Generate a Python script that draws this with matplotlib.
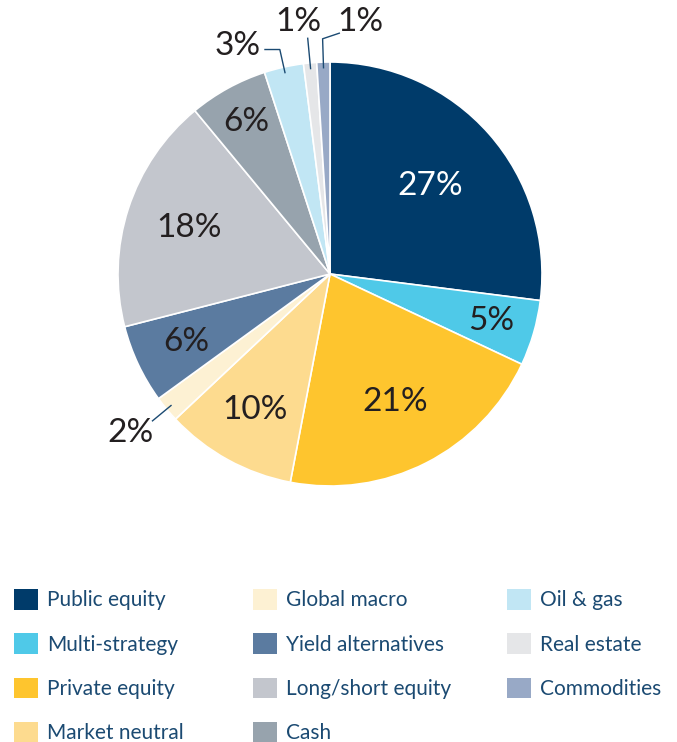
import matplotlib.pyplot as plt
from matplotlib.patches import Patch
import numpy as np

plt.rcParams['font.family'] = ['Lato', 'DejaVu Sans']

categories = ["Public equity", "Multi-strategy", "Private equity", "Market neutral",
              "Global macro", "Yield alternatives", "Long/short equity", "Cash",
              "Oil & gas", "Real estate", "Commodities"]
shares = [27, 5, 21, 10, 2, 6, 18, 6, 3, 1, 1]
colors = ["#003B6A", "#4FC9E8", "#FEC52E", "#FDDB8F", "#FDF1D3", "#5B7BA0",
          "#C3C6CD", "#97A3AD", "#C1E6F4", "#E5E6E8", "#98A9C6"]

text_dark = "#231F20"
navy = "#1B4A72"

fig = plt.figure(figsize=(6.77, 7.42), dpi=100)
# pie centre at (330, 274) px, radius 212 px
ax = fig.add_axes([(330 - 212) / 677, (742 - 274 - 212) / 742, 424 / 677, 424 / 742])
wedges, _ = ax.pie(shares, colors=colors, startangle=90, counterclock=False,
                   wedgeprops=dict(edgecolor="white", linewidth=1.2))
ax.set_xlim(-1, 1)
ax.set_ylim(-1, 1)
ax.set_aspect("equal")
ax.axis("off")

# label radius for the slices labelled inside
inside_r = {0: 0.63, 1: 0.79, 2: 0.68, 3: 0.73, 5: 0.75, 6: 0.70, 7: 0.82}
for i, w in enumerate(wedges):
    mid = np.deg2rad((w.theta1 + w.theta2) / 2)
    if i in inside_r:
        r = inside_r[i]
        ax.text(r * np.cos(mid), r * np.sin(mid), f"{shares[i]}%", ha="center", va="center",
                fontsize=24, color="white" if i == 0 else text_dark)

# leader lines for small slices: (elbow radius, end point or None, text x, text y)
leaders = {
    8: (1.085, (-0.31, None), -0.434, 1.075),
    9: (1.12, None, -0.15, 1.19),
    10: (1.11, (0.047, 1.137), 0.142, 1.19),
    4: (1.09, None, -0.943, -0.75),
}
for i, (r_el, end, tx, ty) in leaders.items():
    w = wedges[i]
    mid = np.deg2rad((w.theta1 + w.theta2) / 2)
    xs = [0.97 * np.cos(mid), r_el * np.cos(mid)]
    ys = [0.97 * np.sin(mid), r_el * np.sin(mid)]
    if end is not None:
        ex, ey = end
        xs.append(ex)
        ys.append(ys[-1] if ey is None else ey)
    ax.plot(xs, ys, color=navy, lw=1, clip_on=False, solid_capstyle="butt")
    ax.text(tx, ty, f"{shares[i]}%", ha="center", va="center", fontsize=24,
            color=text_dark, clip_on=False)

# legend in three columns
col_x = [14, 253, 507]
groups = [range(0, 4), range(4, 8), range(8, 11)]
for cx, g in zip(col_x, groups):
    handles = [Patch(facecolor=colors[k], edgecolor="none") for k in g]
    labels = [categories[k] for k in g]
    leg = fig.legend(handles, labels, loc="upper left",
                     bbox_to_anchor=(cx / 677, (742 - 589) / 742),
                     frameon=False, fontsize=15, handlelength=1.15, handleheight=1.15,
                     handletextpad=0.42, labelspacing=1.1, borderpad=0, borderaxespad=0)
    for t in leg.get_texts():
        t.set_color(navy)

fig.savefig("out.png", dpi=100)
